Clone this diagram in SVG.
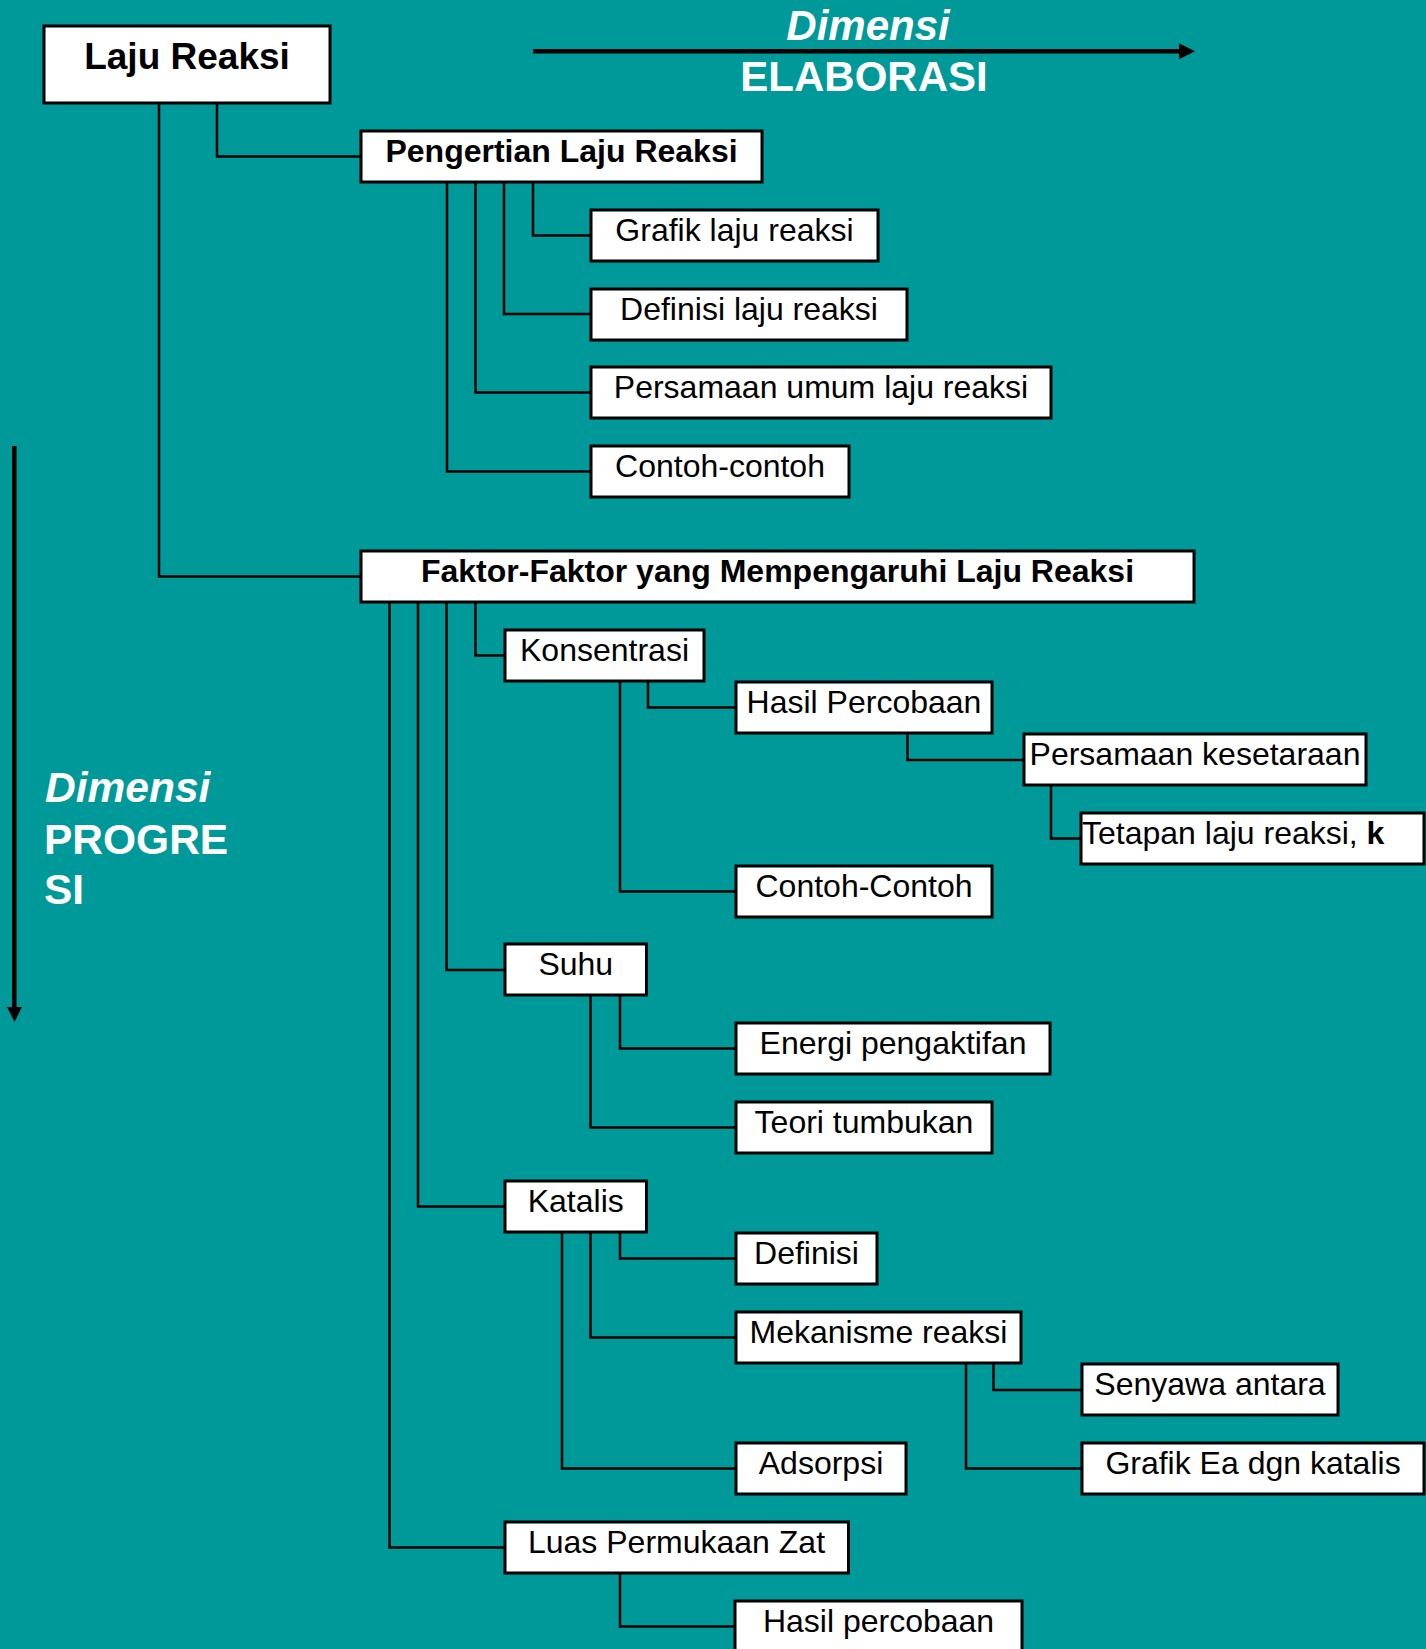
<svg xmlns="http://www.w3.org/2000/svg" width="1426" height="1649" viewBox="0 0 1426 1649">
<style>
.box{fill:#fff;stroke:#000;stroke-width:3}
.t{font-family:"Liberation Sans",Arial,sans-serif;font-size:32px;fill:#000;text-anchor:middle}
.b{font-weight:bold}
.big{font-size:37px}
.st{text-anchor:start}
.w{font-family:"Liberation Sans",Arial,sans-serif;font-size:42px;font-weight:bold;fill:#fff}
.l{font-size:42.5px}
.m{text-anchor:middle}
.i{font-style:italic}
.c{fill:none;stroke:#000;stroke-width:2.5}
</style>
<rect x="0" y="0" width="1426" height="1649" fill="#009999"/>
<g id="labels">
<text class="w i m" x="868" y="40">Dimensi</text>
<text class="w m" x="864" y="91">ELABORASI</text>
<line x1="533" y1="51.3" x2="1181" y2="51.3" stroke="#000" stroke-width="4.5"/>
<polygon points="1179,43.3 1195,51.3 1179,59.3" fill="#000"/>
<line x1="14.3" y1="446" x2="14.3" y2="1008" stroke="#000" stroke-width="4.5"/>
<polygon points="7,1007 22,1007 14.5,1022" fill="#000"/>
<text class="w i l" x="45" y="802">Dimensi</text>
<text class="w l" x="44" y="853.5">PROGRE</text>
<text class="w l" x="44" y="904">SI</text>
</g>
<g id="connectors">
<path class="c" d="M217,103 V156.5 H361"/>
<path class="c" d="M159,103 V576.5 H361"/>
<path class="c" d="M533,182 V235.5 H591"/>
<path class="c" d="M504,182 V314 H591"/>
<path class="c" d="M475.5,182 V392.5 H591"/>
<path class="c" d="M447,182 V471.5 H591"/>
<path class="c" d="M475.5,602 V655.5 H505"/>
<path class="c" d="M446.5,602 V970 H505"/>
<path class="c" d="M418,602 V1206.5 H505"/>
<path class="c" d="M389.5,602 V1547.5 H505"/>
<path class="c" d="M648,681 V707.5 H736"/>
<path class="c" d="M620,681 V891.5 H736"/>
<path class="c" d="M907.5,733 V760 H1024"/>
<path class="c" d="M1051,785 V838.5 H1081"/>
<path class="c" d="M620,995 V1048.5 H736"/>
<path class="c" d="M590.5,995 V1127.5 H736"/>
<path class="c" d="M620,1232 V1258.5 H736"/>
<path class="c" d="M590.5,1232 V1337.5 H736"/>
<path class="c" d="M562,1232 V1468.5 H736"/>
<path class="c" d="M993.5,1363 V1390 H1082"/>
<path class="c" d="M966,1363 V1468.5 H1082"/>
<path class="c" d="M620,1572.5 V1626.5 H735"/>
</g>
<g id="laju-reaksi"><rect class="box" x="44" y="26" width="286" height="77"/><text class="t b big" x="187" y="69">Laju Reaksi</text></g>
<g id="pengertian"><rect class="box" x="361" y="131" width="401" height="51"/><text class="t b" x="561.5" y="162">Pengertian Laju Reaksi</text></g>
<g id="grafik"><rect class="box" x="591" y="210" width="287" height="51"/><text class="t" x="734.5" y="241">Grafik laju reaksi</text></g>
<g id="definisi"><rect class="box" x="591" y="289" width="316" height="51"/><text class="t" x="749" y="320">Definisi laju reaksi</text></g>
<g id="persamaan-umum"><rect class="box" x="591" y="367" width="460" height="51"/><text class="t" x="821" y="398">Persamaan umum laju reaksi</text></g>
<g id="contoh"><rect class="box" x="591" y="446" width="258" height="51"/><text class="t" x="720" y="477">Contoh-contoh</text></g>
<g id="faktor"><rect class="box" x="361" y="551" width="833" height="51"/><text class="t b" x="777.5" y="582">Faktor-Faktor yang Mempengaruhi Laju Reaksi</text></g>
<g id="konsentrasi"><rect class="box" x="505" y="630" width="199" height="51"/><text class="t" x="604.5" y="661">Konsentrasi</text></g>
<g id="hasil-percobaan-1"><rect class="box" x="736" y="682" width="256" height="51"/><text class="t" x="864" y="713">Hasil Percobaan</text></g>
<g id="persamaan-kesetaraan"><rect class="box" x="1024" y="734" width="342" height="51"/><text class="t" x="1195" y="765">Persamaan kesetaraan</text></g>
<g id="tetapan"><rect class="box" x="1081" y="813" width="343" height="51"/><text class="t st" x="1082" y="844">Tetapan laju reaksi, <tspan class="b">k</tspan></text></g>
<g id="contoh-contoh"><rect class="box" x="736" y="866" width="256" height="51"/><text class="t" x="864" y="897">Contoh-Contoh</text></g>
<g id="suhu"><rect class="box" x="505" y="944" width="141.5" height="51"/><text class="t" x="575.75" y="975">Suhu</text></g>
<g id="energi"><rect class="box" x="736" y="1023" width="314" height="51"/><text class="t" x="893" y="1054">Energi pengaktifan</text></g>
<g id="teori"><rect class="box" x="736" y="1102" width="256" height="51"/><text class="t" x="864" y="1133">Teori tumbukan</text></g>
<g id="katalis"><rect class="box" x="505" y="1181" width="141.5" height="51"/><text class="t" x="575.75" y="1212">Katalis</text></g>
<g id="definisi-katalis"><rect class="box" x="736" y="1233" width="141" height="51"/><text class="t" x="806.5" y="1264">Definisi</text></g>
<g id="mekanisme"><rect class="box" x="736" y="1312" width="285" height="51"/><text class="t" x="878.5" y="1343">Mekanisme reaksi</text></g>
<g id="senyawa"><rect class="box" x="1082" y="1364" width="256" height="51"/><text class="t" x="1210" y="1395">Senyawa antara</text></g>
<g id="grafik-ea"><rect class="box" x="1082" y="1443" width="342" height="51"/><text class="t" x="1253" y="1474">Grafik Ea dgn katalis</text></g>
<g id="adsorpsi"><rect class="box" x="736" y="1443" width="170" height="51"/><text class="t" x="821" y="1474">Adsorpsi</text></g>
<g id="luas"><rect class="box" x="505" y="1522" width="343.5" height="51"/><text class="t" x="676.5" y="1553">Luas Permukaan Zat</text></g>
<g id="hasil-percobaan-2"><rect class="box" x="735" y="1601" width="287" height="51"/><text class="t" x="878.5" y="1632">Hasil percobaan</text></g>
</svg>
